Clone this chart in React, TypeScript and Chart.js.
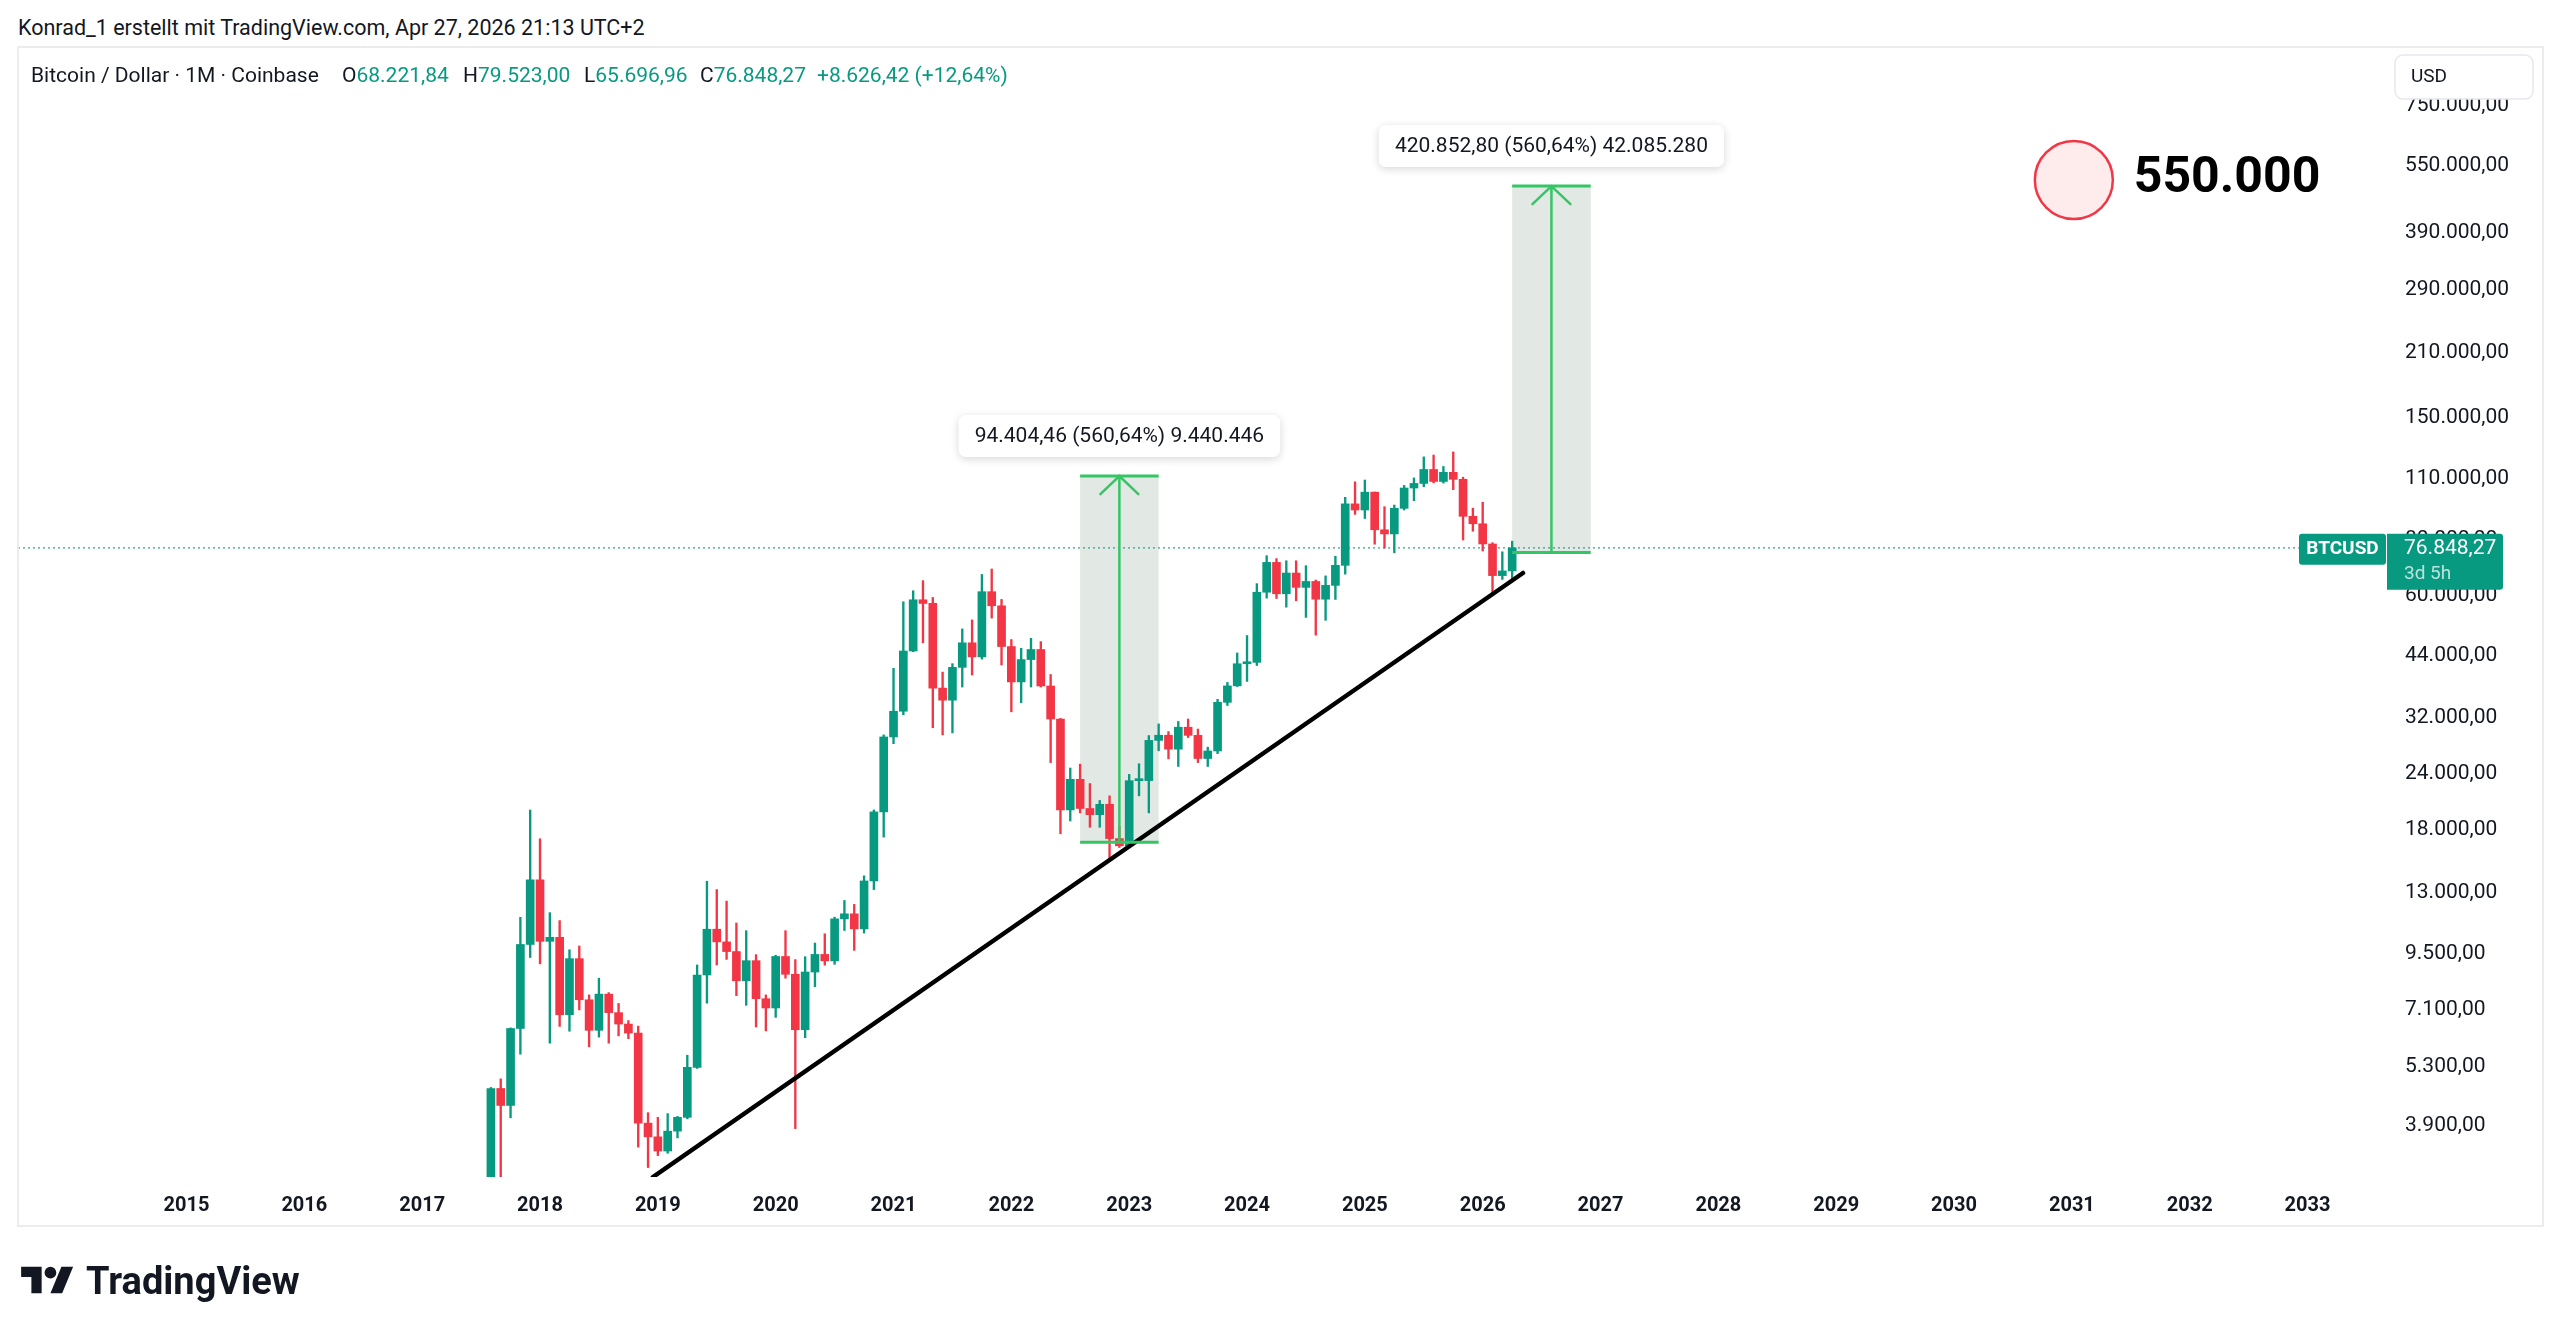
import React, { useEffect, useRef } from 'react';
import { Chart, registerables } from 'chart.js';

Chart.register(...registerables);

// ---------- DATA ----------
// x values are months counted from Jan 2015 (Jan 2015 = 0)
const START_MONTH = 31; // first candle: Aug 2017
const OPEN = [
  2856, 4735, 4338, 6451, 9947,
  13880, 10110, 10320, 6925, 9245, 7480, 6390, 7700, 7000, 6600, 6300, 3960,
  3690, 3430, 3800, 4080, 5280, 8500, 10760, 10080, 9590, 8250, 9150, 7520,
  7170, 9350, 8530, 6410, 8630, 9450, 9140, 11350, 11650, 10780, 13800, 19700,
  28990, 33100, 45150, 58800, 57700, 37300, 35040, 41500, 47100, 43800, 61300, 57000,
  46200, 38500, 43200, 45500, 37700, 31800, 19900, 23300, 20050, 19420, 20490, 17170,
  16540, 23140, 23150, 28480, 29250, 27220, 30480, 29230, 25940, 26970, 34650, 37720,
  42280, 42580, 61130, 71290, 60640, 67490, 62680, 64620, 58970, 63330, 70220, 96400,
  93400, 102400, 84350, 82550, 94200, 104600, 107100, 115100, 108200, 113400, 109400, 90400,
  87000, 78400, 66600, 68221.84,
];
const HIGH = [
  4760, 4975, 6470, 11440, 19891,
  17150, 11720, 11250, 9680, 9870, 7670, 8360, 7760, 7340, 6720, 6530, 4180,
  4080, 4160, 4100, 5620, 8950, 13780, 13200, 12440, 11110, 10680, 9440, 7670,
  9410, 10680, 9200, 9340, 10020, 10510, 11450, 12480, 12230, 14170, 19900, 29300,
  41300, 58200, 61600, 64900, 59500, 40500, 42300, 50600, 53000, 67000, 68900, 58900,
  47900, 45800, 48200, 47400, 40000, 31900, 24700, 25200, 22800, 20900, 21400, 18300,
  23900, 25250, 29200, 31000, 29800, 31400, 31800, 30200, 27500, 35200, 38400, 44700,
  48900, 63900, 73800, 72700, 71900, 71900, 70100, 65100, 66500, 73600, 99700, 108000,
  109000, 102500, 95000, 95800, 106000, 110200, 122800, 124000, 116900, 126000, 110600, 94300,
  97200, 78900, 75300, 79523,
];
const LOW = [
  2692, 2980, 4070, 5650, 9300,
  9000, 5980, 6520, 6360, 7100, 5870, 6170, 5980, 6210, 6120, 3500, 3150,
  3350, 3390, 3670, 4050, 5250, 7350, 8950, 9210, 7640, 7270, 6500, 6370,
  6830, 8360, 3850, 6150, 8000, 8940, 8980, 10690, 9650, 10550, 13200, 17300,
  28000, 32500, 45000, 47100, 30400, 29300, 29600, 37500, 39900, 43300, 53500, 42000,
  33000, 34600, 37500, 37500, 25400, 17600, 18800, 19600, 18200, 18200, 15500, 16400,
  16500, 21400, 19600, 27000, 25900, 24900, 28900, 25400, 24900, 26600, 34100, 37600,
  38600, 41900, 59300, 59200, 56600, 58500, 53700, 49000, 52900, 58900, 67100, 91300,
  89400, 78300, 76700, 74900, 93400, 98000, 105300, 107400, 107300, 103700, 80000, 83700,
  75600, 60100, 65300, 65696.96,
];
const CLOSE = [
  4735, 4338, 6451, 9947, 13880,
  10110, 10320, 6925, 9245, 7480, 6390, 7700, 7000, 6600, 6300, 3960, 3690,
  3430, 3800, 4080, 5280, 8500, 10760, 10080, 9590, 8250, 9150, 7520, 7170,
  9350, 8530, 6410, 8630, 9450, 9140, 11350, 11650, 10780, 13800, 19700, 28990,
  33100, 45150, 58800, 57700, 37300, 35040, 41500, 47100, 43800, 61300, 57000, 46200,
  38500, 43200, 45500, 37700, 31800, 19900, 23300, 20050, 19420, 20490, 17170, 16540,
  23140, 23150, 28480, 29250, 27220, 30480, 29230, 25940, 26970, 34650, 37720, 42280,
  42580, 61130, 71290, 60640, 67490, 62680, 64620, 58970, 63330, 70220, 96400, 93400,
  102400, 84350, 82550, 94200, 104600, 107100, 115100, 108200, 113400, 109400, 90400, 87000,
  78400, 66600, 68221.84, 76848.27,
];

const YEAR_LABELS = ['2015', '2016', '2017', '2018', '2019', '2020', '2021', '2022', '2023', '2024', '2025', '2026', '2027', '2028', '2029', '2030', '2031', '2032', '2033'];
const Y_TICKS = [750000, 550000, 390000, 290000, 210000, 150000, 110000, 80000, 60000, 44000, 32000, 24000, 18000, 13000, 9500, 7100, 5300, 3900];

const X_MIN = -17.16;
const X_MAX = 224.6;
const Y_MIN = 3000;
const Y_MAX = 1010700;

const TREND_X = [47.5, 136.1];
const TREND_Y = [3000, 67500];

const LAST_PRICE = 76848.27;

const RANGE_FROM = [91, 135];
const RANGE_TO = [99, 143];
const RANGE_ARROW = [95, 139];
const RANGE_LOW = [16838.6, 75066];
const RANGE_HIGH = [111243, 495919];
const RANGE_TEXT = ['94.404,46 (560,64%) 9.440.446', '420.852,80 (560,64%) 42.085.280'];

const TARGET_X = 192.2;
const TARGET_Y = 511700;
const TARGET_TEXT_X = 198.3;
const TARGET_TEXT_Y = 481000;
const TARGET_TEXT = '550.000';

// ---------- STYLE ----------
const UP = '#089981';
const DOWN = '#f23645';
const TEXT = '#131722';
const GREEN = '#34c565';
const RANGE_FILL = 'rgba(76,110,80,0.16)';
const FONT = 'Roboto, "Noto Sans", sans-serif';

function formatDE(n: number, d: number): string {
  const s = n.toFixed(d);
  const [i, f] = s.split('.');
  const ii = i.replace(/\B(?=(\d{3})+(?!\d))/g, '.');
  return f ? ii + ',' + f : ii;
}

const annotPlugin = {
  id: 'annot',
  beforeDatasetsDraw(chart: any) {
    const { ctx, scales } = chart;
    const x = scales.x, y = scales.y;
    ctx.save();
    ctx.fillStyle = RANGE_FILL;
    for (let i = 0; i < RANGE_FROM.length; i++) {
      const x0 = x.getPixelForValue(RANGE_FROM[i]);
      const x1 = x.getPixelForValue(RANGE_TO[i]);
      const yl = y.getPixelForValue(RANGE_LOW[i]);
      const yh = y.getPixelForValue(RANGE_HIGH[i]);
      ctx.fillRect(x0, yh, x1 - x0, yl - yh);
    }
    ctx.restore();
  },
  afterDatasetsDraw(chart: any) {
    const { ctx, scales } = chart;
    const x = scales.x, y = scales.y;
    ctx.save();
    for (let i = 0; i < RANGE_FROM.length; i++) {
      const x0 = x.getPixelForValue(RANGE_FROM[i]);
      const x1 = x.getPixelForValue(RANGE_TO[i]);
      const xa = x.getPixelForValue(RANGE_ARROW[i]);
      const yl = y.getPixelForValue(RANGE_LOW[i]);
      const yh = y.getPixelForValue(RANGE_HIGH[i]);
      ctx.strokeStyle = GREEN;
      ctx.lineWidth = 3;
      ctx.lineCap = 'butt';
      ctx.beginPath();
      ctx.moveTo(x0, yl); ctx.lineTo(x1, yl);
      ctx.moveTo(x0, yh); ctx.lineTo(x1, yh);
      ctx.stroke();
      ctx.lineWidth = 2.5;
      ctx.lineCap = 'round';
      ctx.beginPath();
      ctx.moveTo(xa, yl); ctx.lineTo(xa, yh);
      ctx.moveTo(xa - 19, yh + 18); ctx.lineTo(xa, yh); ctx.lineTo(xa + 19, yh + 18);
      ctx.stroke();
      // label
      ctx.font = `21px ${FONT}`;
      const tw = ctx.measureText(RANGE_TEXT[i]).width;
      const w = tw + 32, h = 42;
      const bx = xa - w / 2, by = yh - 19 - h;
      ctx.save();
      ctx.shadowColor = 'rgba(0,0,0,0.16)';
      ctx.shadowBlur = 8;
      ctx.shadowOffsetY = 2;
      ctx.fillStyle = '#ffffff';
      ctx.beginPath();
      ctx.roundRect(bx, by, w, h, 7);
      ctx.fill();
      ctx.restore();
      ctx.fillStyle = TEXT;
      ctx.textAlign = 'center';
      ctx.textBaseline = 'middle';
      ctx.fillText(RANGE_TEXT[i], xa, by + h / 2 + 1);
    }
    // target circle
    const cx = x.getPixelForValue(TARGET_X);
    const cy = y.getPixelForValue(TARGET_Y);
    ctx.beginPath();
    ctx.arc(cx, cy, 39, 0, Math.PI * 2);
    ctx.fillStyle = 'rgba(242,54,69,0.1)';
    ctx.fill();
    ctx.lineWidth = 2.5;
    ctx.strokeStyle = DOWN;
    ctx.stroke();
    ctx.fillStyle = '#000000';
    ctx.font = `bold 50px ${FONT}`;
    ctx.textAlign = 'left';
    ctx.textBaseline = 'alphabetic';
    ctx.fillText(TARGET_TEXT, x.getPixelForValue(TARGET_TEXT_X), y.getPixelForValue(TARGET_TEXT_Y));
    ctx.restore();
  },
  afterDraw(chart: any) {
    const { ctx, scales, chartArea } = chart;
    const x = scales.x, y = scales.y;
    ctx.save();
    // pane border
    ctx.strokeStyle = '#ececec';
    ctx.lineWidth = 2;
    ctx.strokeRect(chartArea.left, chartArea.top - 1, chartArea.right + y.width - chartArea.left, chartArea.bottom + x.height - chartArea.top + 1);
    // last price labels
    const yp = y.getPixelForValue(LAST_PRICE);
    const pLeft = chartArea.right - 5;
    ctx.fillStyle = UP;
    ctx.beginPath();
    ctx.roundRect(pLeft, yp - 14, 116, 56, [0, 3, 3, 0]);
    ctx.fill();
    ctx.beginPath();
    ctx.roundRect(pLeft - 88, yp - 14, 87, 31, 3);
    ctx.fill();
    ctx.fillStyle = '#ffffff';
    ctx.textBaseline = 'middle';
    ctx.textAlign = 'center';
    ctx.font = `bold 19px ${FONT}`;
    ctx.fillText('BTCUSD', pLeft - 88 + 43.5, yp + 1.5);
    ctx.textAlign = 'left';
    ctx.font = `21px ${FONT}`;
    ctx.fillText(formatDE(LAST_PRICE, 2), pLeft + 17, yp + 1);
    ctx.fillStyle = 'rgba(255,255,255,0.72)';
    ctx.font = `19px ${FONT}`;
    ctx.fillText('3d 5h', pLeft + 17, yp + 26);
    // USD button
    const ux = chartArea.right + 3, uy = chartArea.top + 7;
    ctx.fillStyle = '#ffffff';
    ctx.strokeStyle = '#e6e8ee';
    ctx.lineWidth = 1.5;
    ctx.beginPath();
    ctx.roundRect(ux, uy, 138, 44, 8);
    ctx.fill();
    ctx.stroke();
    ctx.fillStyle = TEXT;
    ctx.font = `19px ${FONT}`;
    ctx.fillText('USD', ux + 16, uy + 22);
    ctx.restore();
  },
};

export default function App() {
  const ref = useRef<HTMLCanvasElement | null>(null);

  useEffect(() => {
    if (!ref.current) return;
    const colors = OPEN.map((o, i) => (CLOSE[i] >= o ? UP : DOWN));
    const bodies = OPEN.map((o, i) => ({ x: START_MONTH + i, y: [o, CLOSE[i]] }));
    const wicks = OPEN.map((_, i) => ({ x: START_MONTH + i, y: [LOW[i], HIGH[i]] }));
    const trend = TREND_X.map((v, i) => ({ x: v, y: TREND_Y[i] }));
    const priceLine = [{ x: X_MIN, y: LAST_PRICE }, { x: X_MAX, y: LAST_PRICE }];

    const chart = new Chart(ref.current, {
      type: 'bar',
      data: {
        datasets: [
          { type: 'line', data: trend, borderColor: '#000000', borderWidth: 4.5, pointRadius: 0, order: 0, borderCapStyle: 'round' } as any,
          { type: 'bar', data: bodies, backgroundColor: colors, barThickness: 8, minBarLength: 2, grouped: false, borderWidth: 0, order: 1 } as any,
          { type: 'bar', data: wicks, backgroundColor: colors, barThickness: 1.7, grouped: false, borderWidth: 0, order: 2 } as any,
          { type: 'line', data: priceLine, borderColor: 'rgba(8,153,129,0.85)', borderWidth: 1.3, borderDash: [2, 3], pointRadius: 0, order: 3 } as any,
        ],
      },
      options: {
        responsive: false,
        animation: false,
        devicePixelRatio: 1,
        events: [],
        layout: { padding: { left: 18, top: 48, right: 17, bottom: 108 } },
        plugins: { legend: { display: false }, tooltip: { enabled: false } },
        scales: {
          x: {
            type: 'linear',
            min: X_MIN,
            max: X_MAX,
            offset: false,
            grid: { display: false },
            border: { display: false },
            afterBuildTicks: (s: any) => { s.ticks = YEAR_LABELS.map((_, i) => ({ value: i * 12 })); },
            afterFit: (s: any) => { s.height = 49; },
            ticks: {
              autoSkip: false,
              maxRotation: 0,
              padding: 9,
              color: TEXT,
              font: { size: 20, weight: 'bold', family: FONT },
              callback: (v: any) => YEAR_LABELS[Math.round(Number(v) / 12)],
            },
          },
          y: {
            type: 'logarithmic',
            position: 'right',
            min: Y_MIN,
            max: Y_MAX,
            grid: { display: false },
            border: { display: false },
            afterBuildTicks: (s: any) => { s.ticks = Y_TICKS.map((v) => ({ value: v })); },
            afterFit: (s: any) => { s.width = 151; },
            ticks: {
              autoSkip: false,
              padding: 5,
              color: TEXT,
              font: { size: 21, family: FONT },
              callback: (v: any) => formatDE(Number(v), 2),
            },
          },
        },
      } as any,
      plugins: [annotPlugin],
    });
    return () => chart.destroy();
  }, []);

  const seg = (left: number, label: string, value: string) => (
    <span style={{ position: 'absolute', left, top: 0, whiteSpace: 'nowrap' }}>
      <span style={{ color: TEXT }}>{label}</span>
      <span style={{ color: UP }}>{value}</span>
    </span>
  );

  return (
    <div style={{ position: 'absolute', left: 0, top: 0, width: 2560, height: 1334, background: '#ffffff', overflow: 'hidden', fontFamily: FONT }}>
      <div style={{ position: 'absolute', left: 18, top: 16, fontSize: 21.5, lineHeight: '24px', color: TEXT, whiteSpace: 'nowrap' }}>
        Konrad_1 erstellt mit TradingView.com, Apr 27, 2026 21:13 UTC+2
      </div>
      <canvas ref={ref} width={2560} height={1334} style={{ position: 'absolute', left: 0, top: 0 }} />
      <div style={{ position: 'absolute', left: 0, top: 62, height: 26, fontSize: 21, lineHeight: '26px', width: 1200 }}>
        {seg(31, 'Bitcoin / Dollar · 1M · Coinbase', '')}
        {seg(342, 'O', '68.221,84')}
        {seg(463, 'H', '79.523,00')}
        {seg(584, 'L', '65.696,96')}
        {seg(700, 'C', '76.848,27')}
        {seg(817, '', '+8.626,42 (+12,64%)')}
      </div>
      <svg style={{ position: 'absolute', left: 21, top: 1261 }} width={53} height={41} viewBox="0 0 36 28">
        <path d="M14 22H7V11H0V4h14v18zM28 22h-8l7.5-18h8L28 22z" fill="#131722" />
        <circle cx="20" cy="8" r="4" fill="#131722" />
      </svg>
      <div style={{ position: 'absolute', left: 86, top: 1262, fontSize: 38, lineHeight: '38px', fontWeight: 700, color: '#131722' }}>
        TradingView
      </div>
    </div>
  );
}
